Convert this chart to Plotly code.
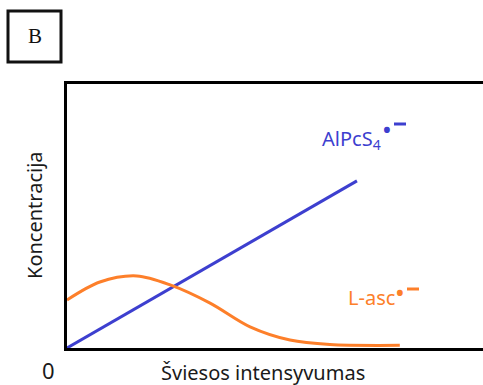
import plotly.graph_objects as go

# Light intensity (arbitrary units) and concentrations (arbitrary units)
alpcs_x = [0.0, 6.97]
alpcs_y = [0.0, 6.33]

lasc_x = [0.0, 0.79, 1.68, 2.48, 3.44, 4.40, 5.36, 6.32, 8.0]
lasc_y = [1.82, 2.50, 2.73, 2.39, 1.70, 0.80, 0.30, 0.13, 0.10]

BLUE = "#3d3fcf"
ORANGE = "#fd7f2a"
INK = "#1a1a1a"
FONT = "Noto Sans"

W, H = 483, 385
L, R, T, B = 67, 0, 84, 37
PW, PH = W - L - R, H - T - B


def px(x, y):
    """Convert page pixels to paper coordinates."""
    return (x - L) / PW, (H - B - y) / PH


fig = go.Figure()
fig.add_trace(go.Scatter(x=alpcs_x, y=alpcs_y, mode="lines",
                         line=dict(color=BLUE, width=3), cliponaxis=False))
fig.add_trace(go.Scatter(x=lasc_x, y=lasc_y, mode="lines",
                         line=dict(color=ORANGE, width=3, shape="spline", smoothing=0.9),
                         cliponaxis=False))

annotations = []
shapes = []


def text(x, y, s, size, color, xanchor="center", family=FONT, angle=0):
    px_, py_ = px(x, y)
    annotations.append(dict(x=px_, y=py_, xref="paper", yref="paper", text=s,
                            showarrow=False, xanchor=xanchor, yanchor="middle",
                            textangle=angle, borderpad=0,
                            font=dict(size=size, color=color, family=family)))


def dash(x0, x1, y, color):
    a0, b0 = px(x0, y)
    a1, _ = px(x1, y)
    shapes.append(dict(type="line", xref="paper", yref="paper", x0=a0, x1=a1,
                       y0=b0, y1=b0, line=dict(color=color, width=3)))


# Series labels (radical marks: dot + short dash)
text(321, 139, "AlPcS<sub>4</sub>", 20, BLUE, xanchor="left")
text(387, 129, "•", 26, BLUE)
dash(394, 406, 124, BLUE)

text(347, 297, "L-asc", 20, ORANGE, xanchor="left")
text(400, 292, "•", 26, ORANGE)
dash(407, 419, 289, ORANGE)

# Axis titles and origin
text(34, 215, "Koncentracija", 20, INK, angle=-90)
text(263, 372, "Šviesos intensyvumas", 20, INK)
text(48, 370, "0", 22, INK)

# Panel letter in a framed box
bx0, by0 = px(8, 62)
bx1, by1 = px(61, 11)
shapes.append(dict(type="rect", xref="paper", yref="paper", x0=bx0, x1=bx1,
                   y0=by0, y1=by1, line=dict(color="#111111", width=3)))
text(35, 36, "B", 21, "#111111", family="Liberation Serif")

fig.update_layout(
    width=W, height=H,
    margin=dict(l=L, r=R, t=T, b=B),
    paper_bgcolor="white", plot_bgcolor="white",
    showlegend=False,
    annotations=annotations, shapes=shapes,
    xaxis=dict(range=[0, 10], showgrid=False, zeroline=False, showticklabels=False,
               ticks="", showline=True, linecolor="black", linewidth=3, mirror=True),
    yaxis=dict(range=[0, 10], showgrid=False, zeroline=False, showticklabels=False,
               ticks="", showline=True, linecolor="black", linewidth=3),
)

fig.write_html("out.html")
